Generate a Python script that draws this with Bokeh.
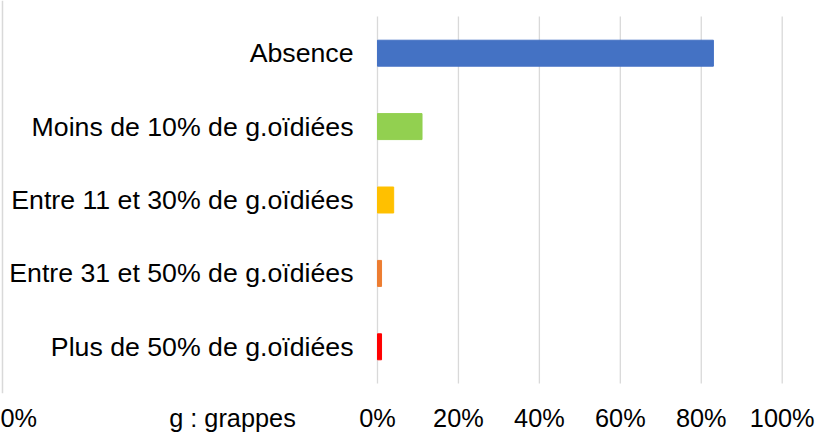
from bokeh.plotting import figure
from bokeh.models import Range1d, FixedTicker, ColumnDataSource
from bokeh.core.properties import value
from bokeh.embed import file_html
from bokeh.resources import INLINE

# ---- data ----
categories = [
    "Absence",
    "Moins de 10% de g.oïdiées",
    "Entre 11 et 30% de g.oïdiées",
    "Entre 31 et 50% de g.oïdiées",
    "Plus de 50% de g.oïdiées",
]
values = [0.83, 0.11, 0.04, 0.01, 0.01]
colors = ["#4472C4", "#92D050", "#FFC000", "#ED7D31", "#FF0000"]
x_ticks = [0.0, 0.2, 0.4, 0.6, 0.8, 1.0]
x_tick_labels = ["0%", "20%", "40%", "60%", "80%", "100%"]
note_text = "g : grappes"
stray_label = "0%"

FONT = "Liberation Sans"
FS_CAT = "26.7px"
FS_TICK = "25.3px"

W, H = 820, 435
X0_PX, UNIT_PX = 377.0, 404.7          # pixel of 0 % and pixels per 100 %
BAND_TOP, BAND_BOT = 16.0, 383.0         # extent of the category bands
FRAME_BOT = 393.0
n = len(categories)
band = (BAND_BOT - BAND_TOP) / n

def dx(px):
    return round((px - X0_PX) / UNIT_PX, 5)

# category positions: first category at the top
y_pos = [n - 1 - i for i in range(n)]

p = figure(
    width=W, height=H,
    x_range=Range1d(dx(0), dx(W)),
    y_range=Range1d(-0.5 - (FRAME_BOT - BAND_BOT) / band, n - 0.5 + BAND_TOP / band),
    output_backend="svg", toolbar_location=None,
    y_axis_location=None,
    min_border_left=0, min_border_right=0,
    min_border_top=0, min_border_bottom=int(H - FRAME_BOT),
)
p.outline_line_color = None
p.background_fill_color = "white"
p.border_fill_color = "white"
p.xgrid.grid_line_color = None
p.ygrid.grid_line_color = None

# grid lines (only across the category bands)
p.segment(x0=x_ticks, x1=x_ticks, y0=-0.5, y1=n - 0.5,
          line_color="#d9d9d9", line_width=1.3)

# stray border line of the neighbouring chart at the far left
p.segment(x0=[dx(2)], x1=[dx(2)], y0=[p.y_range.start], y1=[p.y_range.end],
          line_color="#d9d9d9", line_width=1.5)

src = ColumnDataSource(dict(y=y_pos, val=values, col=colors, cat=categories))
p.hbar(y="y", left=0, right="val", height=0.354, color="col", source=src)

# category labels
p.text(x=0, y="y", text="cat", source=src, x_offset=-24,
       text_align="right", text_baseline="middle",
       text_font=value(FONT), text_font_size=value(FS_CAT), text_color="#000000")

# x axis: percentage ticks plus the two stray texts of the page
extra_ticks = [dx(17), dx(232)]
all_ticks = extra_ticks + x_ticks
overrides = {t: l for t, l in zip(x_ticks, x_tick_labels)}
overrides[extra_ticks[0]] = stray_label
overrides[extra_ticks[1]] = note_text

p.xaxis.ticker = FixedTicker(ticks=all_ticks)
p.xaxis.major_label_overrides = overrides
p.xaxis.axis_line_color = None
p.xaxis.major_tick_line_color = None
p.xaxis.minor_tick_line_color = None
p.xaxis.major_tick_out = 0
p.xaxis.major_tick_in = 0
p.xaxis.major_label_standoff = 10
p.xaxis.major_label_text_font = FONT
p.xaxis.major_label_text_font_size = FS_TICK
p.xaxis.major_label_text_color = "#000000"

open("out.html", "w").write(file_html(p, INLINE))
